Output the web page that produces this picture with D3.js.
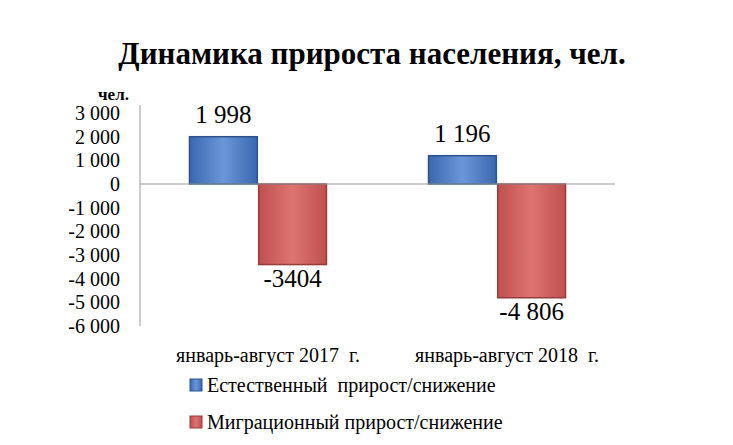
<!DOCTYPE html>
<html><head><meta charset="utf-8">
<script src="https://cdnjs.cloudflare.com/ajax/libs/d3/7.8.5/d3.min.js"></script>
<style>body{margin:0;background:#fff} svg text{font-family:"Liberation Serif","DejaVu Serif",serif}</style>
</head><body>
<svg width="733" height="445"></svg>
<script>
// данные диаграммы
var categories = ["январь-август 2017  г.", "январь-август 2018  г."];
var seriesNames = ["Естественный  прирост/снижение", "Миграционный прирост/снижение"];
var natural = [1998, 1196];
var migration = [-3404, -4806];
var valueLabels = [["1 998", "1 196"], ["-3404", "-4 806"]];
var yTicks = [3000, 2000, 1000, 0, -1000, -2000, -3000, -4000, -5000, -6000];

var svg = d3.select("svg");
var colors = [["#6b97d8", "#3a68b0", "#2c528c"], ["#dd7472", "#c0504d", "#963c3a"]];

var defs = svg.append("defs");
colors.forEach(function (c, i) {
  var g = defs.append("linearGradient").attr("id", "g" + i).attr("x1", 0).attr("x2", 1).attr("y1", 0).attr("y2", 0);
  g.append("stop").attr("offset", "0%").attr("stop-color", c[1]);
  g.append("stop").attr("offset", "50%").attr("stop-color", c[0]);
  g.append("stop").attr("offset", "100%").attr("stop-color", c[1]);
});

svg.append("text").attr("x", 372).attr("y", 64).attr("text-anchor", "middle")
  .attr("font-weight", "bold").attr("font-size", 31)
  .text("Динамика прироста населения, чел.");

var y = d3.scaleLinear().domain([-6000, 3000]).range([326, 113]);
var x0 = d3.scaleBand().domain(categories).range([140, 615]).paddingInner(0.427).paddingOuter(0.207);
var x1 = d3.scaleBand().domain([0, 1]).range([0, x0.bandwidth()]).paddingInner(0.02);

// ось Y
var ax = svg.append("g").attr("transform", "translate(140,0)")
  .call(d3.axisLeft(y).tickValues(yTicks).tickSize(0).tickPadding(20)
    .tickFormat(function (d) { return d3.format(",")(d).replace(/,/g, " ").replace("−", "-"); }));
ax.select(".domain").attr("stroke", "#999").attr("d", "M0,105V326");
ax.selectAll("text").attr("font-family", null).attr("font-size", 20).attr("fill", "#000");

svg.append("text").attr("x", 98).attr("y", 100)
  .attr("font-weight", "bold").attr("font-size", 17).text("чел.");

var data = [natural, migration];
data.forEach(function (series, s) {
  series.forEach(function (v, i) {
    var bx = x0(categories[i]) + x1(s);
    var top = y(Math.max(0, v)), bot = y(Math.min(0, v));
    svg.append("rect").attr("x", bx).attr("y", top).attr("width", x1.bandwidth()).attr("height", bot - top)
      .attr("fill", "url(#g" + s + ")").attr("stroke", colors[s][2]).attr("stroke-width", 1.5);
    var ly = v > 0 ? top - 14 : bot + 22;
    svg.append("text").attr("x", bx + x1.bandwidth() / 2).attr("y", ly)
      .attr("text-anchor", "middle").attr("font-size", 25).text(valueLabels[s][i]);
  });
});

// нулевая линия
svg.append("line").attr("x1", 140).attr("x2", 615).attr("y1", y(0)).attr("y2", y(0)).attr("stroke", "#999");

categories.forEach(function (c, i) {
  svg.append("text").attr("x", x0(c) + x0.bandwidth() / 2 + 10).attr("y", 362).attr("text-anchor", "middle")
    .attr("font-size", 20).attr("xml:space", "preserve").text(c);
});

seriesNames.forEach(function (n, s) {
  var ly = [386, 423][s];
  svg.append("rect").attr("x", 190).attr("y", ly - 7).attr("width", 12).attr("height", 12)
    .attr("fill", "url(#g" + s + ")").attr("stroke", colors[s][2]);
  svg.append("text").attr("x", 207).attr("y", ly + 6).attr("font-size", 20)
    .attr("xml:space", "preserve").text(n);
});
</script>
</body></html>
